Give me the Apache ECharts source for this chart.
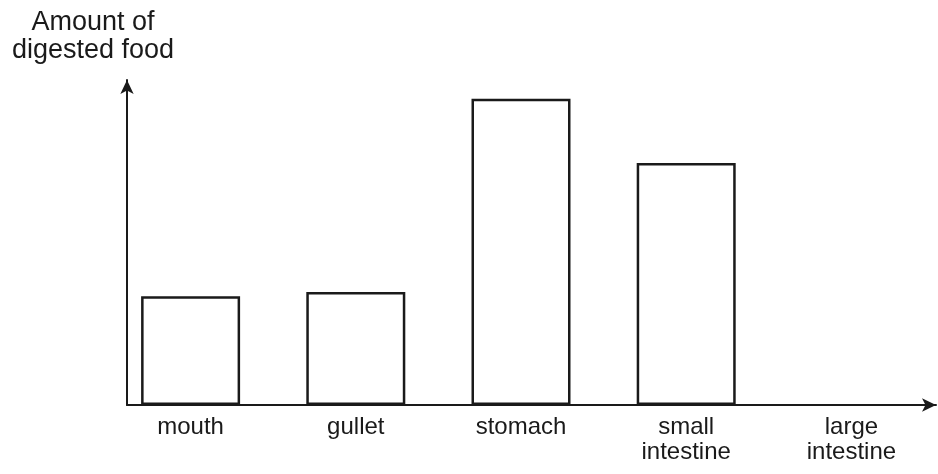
<!DOCTYPE html>
<html>
<head>
<meta charset="utf-8">
<script src="https://cdn.jsdelivr.net/npm/echarts@6/dist/echarts.min.js"></script>
<style>
  html, body { margin: 0; padding: 0; background: #fff; }
  #chart { width: 938px; height: 474px; }
</style>
</head>
<body>
<div id="chart"></div>
<script>
// digestive organs along the x axis
const organs = ['mouth', 'gullet', 'stomach', 'small\nintestine', 'large\nintestine'];
// relative amount of digested food (no units on the original)
const digested = [33.5, 34.8, 94.2, 74.5, 0];

const yTitle = 'Amount of\ndigested food';

const ink = '#1a1a1a';
const font = 'Liberation Sans, Arial, sans-serif';

// a zero-height bar would still show its border as a stray line
const barData = digested.map(v => v > 0 ? v : {value: v, itemStyle: {borderWidth: 0}});

const chart = echarts.init(document.getElementById('chart'));

chart.setOption({
  backgroundColor: '#fff',
  animation: false,
  title: {
    text: yTitle,
    left: 88,
    top: 4,
    textAlign: 'center',
    textStyle: {
      color: ink,
      fontFamily: font,
      fontSize: 27,
      fontWeight: 'normal',
      lineHeight: 28
    }
  },
  grid: [
    // bars + category labels
    {left: 108, right: 4, top: 80, bottom: 69},
    // the two drawn axes with arrow heads
    {left: 127, right: 2, top: 80, bottom: 69}
  ],
  xAxis: [
    {
      gridIndex: 0,
      type: 'category',
      data: organs,
      axisLine: {show: false},
      axisTick: {show: false},
      axisLabel: {
        color: ink,
        fontFamily: font,
        fontSize: 24,
        lineHeight: 25,
        margin: 10,
        interval: 0
      }
    },
    {
      gridIndex: 1,
      type: 'value',
      min: 0,
      max: 1,
      axisLine: {
        show: true,
        symbol: ['none', 'arrow'],
        symbolSize: [10, 14],
        lineStyle: {color: ink, width: 2}
      },
      axisTick: {show: false},
      axisLabel: {show: false},
      splitLine: {show: false}
    }
  ],
  yAxis: [
    {
      gridIndex: 0,
      type: 'value',
      min: 0,
      max: 100,
      show: false
    },
    {
      gridIndex: 1,
      type: 'value',
      min: 0,
      max: 1,
      axisLine: {
        show: true,
        symbol: ['none', 'arrow'],
        symbolSize: [10, 14],
        lineStyle: {color: ink, width: 2}
      },
      axisTick: {show: false},
      axisLabel: {show: false},
      splitLine: {show: false}
    }
  ],
  series: [{
    type: 'bar',
    xAxisIndex: 0,
    yAxisIndex: 0,
    data: barData,
    barWidth: 99,
    itemStyle: {
      color: '#fff',
      borderColor: ink,
      borderWidth: 2.5
    }
  }]
});
</script>
</body>
</html>
